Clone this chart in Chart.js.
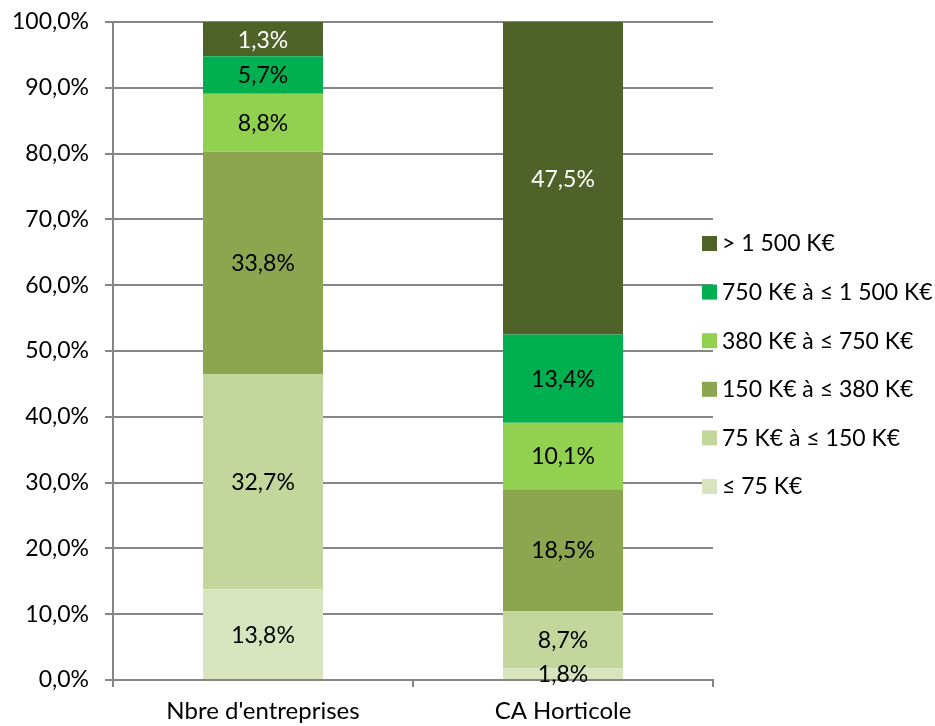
<!DOCTYPE html>
<html>
<head>
<meta charset="utf-8">
<script src="https://cdn.jsdelivr.net/npm/chart.js@4"></script>
<style>
  html, body { margin: 0; padding: 0; background: #fff; }
  #wrap { width: 935px; height: 726px; }
</style>
</head>
<body>
<div id="wrap"><canvas id="myChart"></canvas></div>
<script>
const categories = ["Nbre d'entreprises", 'CA Horticole'];
const seriesNames = ['≤ 75 K€', '75 K€ à ≤ 150 K€', '150 K€ à ≤ 380 K€', '380 K€ à ≤ 750 K€', '750 K€ à ≤ 1 500 K€', '> 1 500 K€'];
const seriesColors = ['#D7E4BD', '#C3D69B', '#8BA64E', '#92D050', '#00B050', '#4F6228'];
// bar heights (top segment of the first bar fills up to 100 %)
const under75 = [13.8, 1.8];
const from75to150 = [32.7, 8.7];
const from150to380 = [33.8, 18.5];
const from380to750 = [8.8, 10.1];
const from750to1500 = [5.7, 13.4];
const over1500 = [5.2, 47.5];
// values printed on the bars
const over1500Labels = [1.3, 47.5];
const yTicks = [0, 10, 20, 30, 40, 50, 60, 70, 80, 90, 100];

const FONT = 'Lato';
const fmt = v => v.toFixed(1).replace('.', ',') + '%';

const seriesValues = [under75, from75to150, from150to380, from380to750, from750to1500, over1500];
const printed = [under75, from75to150, from150to380, from380to750, from750to1500, over1500Labels];

const barLabels = {
  id: 'barLabels',
  afterDatasetsDraw(chart) {
    const ctx = chart.ctx;
    ctx.save();
    ctx.font = '23px ' + FONT;
    ctx.textAlign = 'center';
    ctx.textBaseline = 'middle';
    chart.data.datasets.forEach((ds, i) => {
      chart.getDatasetMeta(i).data.forEach((bar, j) => {
        const val = printed[i][j];
        ctx.fillStyle = i === 5 ? '#ffffff' : '#000000';
        const y = (bar.y + bar.base) / 2;
        ctx.fillText(fmt(val), bar.x, y + 1);
      });
    });
    ctx.restore();
  }
};

const sideLegend = {
  id: 'sideLegend',
  afterDraw(chart) {
    const ctx = chart.ctx;
    const area = chart.chartArea;
    ctx.save();
    ctx.font = '23px ' + FONT;
    ctx.textBaseline = 'middle';
    ctx.textAlign = 'left';
    const n = chart.data.datasets.length;
    const gap = 48.6;
    const y0 = 243;
    for (let k = 0; k < n; k++) {
      const ds = chart.data.datasets[n - 1 - k];
      const y = y0 + k * gap;
      ctx.fillStyle = ds.backgroundColor;
      ctx.fillRect(area.right - 11, y - 7, 15, 15);
      ctx.fillStyle = '#000000';
      ctx.fillText(ds.label, area.right + 9, y + 1);
    }
    ctx.restore();
  }
};

const data = {
  labels: categories,
  datasets: seriesNames.map((name, i) => ({
    label: name,
    data: seriesValues[i],
    backgroundColor: seriesColors[i],
    borderWidth: 0,
    barPercentage: 0.4,
    categoryPercentage: 1.0
  }))
};

const config = {
  type: 'bar',
  data: data,
  options: {
    responsive: true,
    maintainAspectRatio: false,
    animation: false,
    layout: { padding: { top: 22, right: 222, left: 0, bottom: 0 } },
    plugins: {
      legend: { display: false },
      tooltip: { enabled: false }
    },
    scales: {
      x: {
        stacked: true,
        grid: { drawOnChartArea: false, drawTicks: true, tickLength: 7, color: '#868686', lineWidth: 2 },
        border: { display: true, color: '#868686', width: 2 },
        ticks: { color: '#000', font: { family: FONT, size: 24 }, padding: 10 },
        afterFit(scale) { scale.height = 46; scale.paddingLeft = 0; scale.paddingRight = 0; }
      },
      y: {
        stacked: true,
        min: 0,
        max: 100,
        afterBuildTicks(scale) { scale.ticks = yTicks.map(v => ({ value: v })); },
        grid: { color: '#868686', lineWidth: 2, tickLength: 8 },
        border: { display: true, color: '#868686', width: 2 },
        ticks: { color: '#000', font: { family: FONT, size: 23 }, padding: 16, callback: v => fmt(v) },
        afterFit(scale) { scale.width = 113; scale.paddingTop = 0; scale.paddingBottom = 0; }
      }
    }
  },
  plugins: [barLabels, sideLegend]
};

new Chart(document.getElementById('myChart'), config);
</script>
</body>
</html>
